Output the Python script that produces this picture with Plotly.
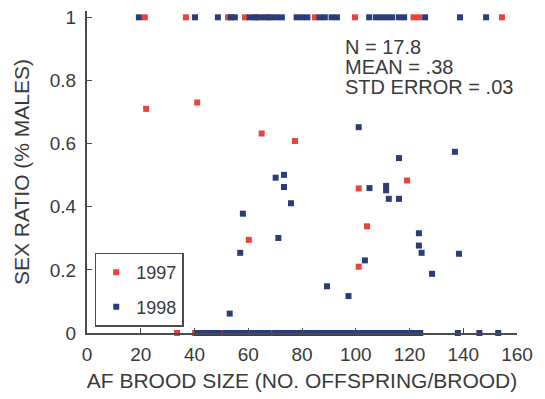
import plotly.graph_objects as go

# 1997 (red) points
x97 = [21.5, 36.8, 52.5, 58.8, 63.0, 67.5, 84.8, 99.7, 121.5, 123.5, 154.4,
       22.0, 41.0, 65.0, 77.4, 60.2, 119.1, 101.1, 104.2, 101.1,
       33.5, 40.2, 50.6, 68.8, 81.9, 90.0, 93.0, 95.0, 109.0, 111.5, 119.4]
y97 = [1, 1, 1, 1, 1, 1, 1, 1, 1, 1, 1,
       0.71, 0.73, 0.632, 0.608, 0.295, 0.483, 0.458, 0.338, 0.21,
       0, 0, 0, 0, 0, 0, 0, 0, 0, 0, 0]

# 1998 (blue) points
x98 = [19.3, 40.2, 48.7, 53.5, 55.0, 60.5, 62.5, 64.5, 66.5, 68.5, 70.5, 72.5,
       78.0, 80.0, 82.0, 86.5, 88.5, 91.0, 93.0, 105.0, 107.5, 109.5, 111.5, 113.5,
       116.0, 118.0, 125.8, 138.8, 148.5,
       70.2, 73.3, 73.3, 75.9, 58.0, 71.2, 57.0, 53.1,
       101.1, 136.9, 116.1, 105.1, 111.3, 111.3, 112.3, 116.1, 123.5, 123.5, 124.5,
       138.4, 103.4, 128.4, 89.3, 97.3,
       41.0, 43.0, 45.0, 47.0, 49.0, 51.5, 53.5, 55.5, 57.5, 59.5, 61.5, 63.5, 65.5,
       67.5, 70.0, 72.0, 74.0, 76.0, 78.0, 80.0, 82.0, 84.0, 86.0, 88.0, 90.0, 92.0,
       94.0, 96.0, 98.0, 100.0, 102.0, 104.0, 106.0, 108.0, 110.0, 112.0, 114.0,
       116.0, 118.0, 120.0, 122.0, 124.0, 138.0, 146.0, 153.0]
y98 = [1] * 29 + [
       0.492, 0.501, 0.4625, 0.411, 0.378, 0.301, 0.254, 0.0615,
       0.652, 0.574, 0.554, 0.459, 0.466, 0.452, 0.425, 0.425, 0.316, 0.277, 0.254,
       0.251, 0.230, 0.1875, 0.148, 0.117] + [0] * 45

x_ticks = [0, 20, 40, 60, 80, 100, 120, 140, 160]
y_ticks = [0, 0.2, 0.4, 0.6, 0.8, 1]
y_tick_labels = ["0", "0.2", "0.4", "0.6", "0.8", "1"]
stats = ["N = 17.8", "MEAN = .38", "STD ERROR = .03"]

RED = "#e8433d"
BLUE = "#2b3d78"
AX = "#4a4a4a"
TXT = "#3a3a3a"
FONT = "Liberation Sans, Arial, sans-serif"

fig = go.Figure()
fig.add_trace(go.Scatter(x=x97, y=y97, mode="markers", name="1997", legendgroup="a",
                         marker=dict(symbol="square", size=6, color=RED),
                         cliponaxis=False))
fig.add_trace(go.Scatter(x=x98, y=y98, mode="markers", name="1998", legendgroup="b",
                         marker=dict(symbol="square", size=6, color=BLUE),
                         cliponaxis=False))

fig.update_layout(
    width=545, height=399,
    margin=dict(l=87, r=28, t=7, b=66),
    paper_bgcolor="white", plot_bgcolor="white",
    font=dict(family=FONT, size=16, color=TXT),
    showlegend=True,
    legend=dict(x=0.018, y=0.02, xanchor="left", yanchor="bottom",
                bordercolor=AX, borderwidth=1.5, bgcolor="white",
                font=dict(size=18, color=TXT), itemwidth=30,
                itemsizing="trace", tracegroupgap=8),
    xaxis=dict(range=[0, 160], tickvals=x_ticks, ticktext=[str(t) for t in x_ticks],
               showgrid=False, zeroline=False, showline=True, linecolor=AX,
               linewidth=2, ticks="inside", ticklen=5, tickcolor=AX,
               tickfont=dict(size=19), ticklabelstandoff=3,
               title=dict(text="AF BROOD SIZE (NO. OFFSPRING/BROOD)",
                          font=dict(size=21), standoff=10)),
    yaxis=dict(range=[0, 1.02], tickvals=y_ticks, ticktext=y_tick_labels,
               showgrid=False, zeroline=False, showline=True, linecolor=AX,
               linewidth=2, ticks="inside", ticklen=5, tickcolor=AX,
               tickfont=dict(size=19), ticklabelstandoff=5,
               title=dict(text="SEX RATIO (% MALES)", font=dict(size=21), standoff=14)),
)

for i, s in enumerate(stats):
    fig.add_annotation(x=95.3, y=0.906 - i * 0.064, xref="x", yref="y",
                       text=s, showarrow=False, xanchor="left", yanchor="middle",
                       font=dict(size=20, color=TXT))

fig.write_html("out.html")
